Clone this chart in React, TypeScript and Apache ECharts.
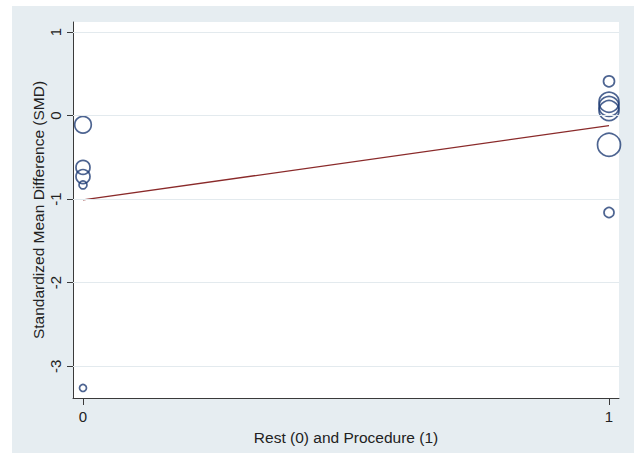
import React, { useEffect, useRef } from "react";
import * as echarts from "echarts";

// Study group: 0 = rest, 1 = procedure
const groupX: number[] = [0, 0, 0, 0, 0, 1, 1, 1, 1, 1, 1];
// Standardized mean difference per study
const smdY: number[] = [-0.11, -0.62, -0.73, -0.83, -3.26, 0.41, 0.16, 0.11, 0.06, -0.35, -1.16];
// Relative study weight (bubble diameter)
const studyWeight: number[] = [16.6, 14, 14, 8, 7, 11, 20, 20, 20, 23, 10];
// Meta-regression fitted line endpoints
const fitX: number[] = [0, 1];
const fitY: number[] = [-1.01, -0.12];
const yTicks: number[] = [-3, -2, -1, 0, 1];
const xTicks: number[] = [0, 1];

export default function App() {
  const ref = useRef<HTMLDivElement>(null);
  useEffect(() => {
    if (!ref.current) return;
    const chart = echarts.init(ref.current, null, { renderer: "svg" });
    const font = "Liberation Sans, Arial, sans-serif";
    const axisColor = "#3a3a3a";
    chart.setOption({
      animation: false,
      backgroundColor: "#ffffff",
      graphic: [
        {
          type: "rect",
          z: -10,
          silent: true,
          shape: { x: 12, y: 6, width: 622, height: 447 },
          style: { fill: "#e6edf1" },
        },
        {
          type: "rect",
          z: -9,
          silent: true,
          shape: { x: 73, y: 22, width: 546, height: 376 },
          style: { fill: "#ffffff" },
        },
      ],
      grid: { left: 73, top: 22, right: 15, bottom: 57, containLabel: false },
      xAxis: {
        type: "value",
        min: -0.019,
        max: 1.019,
        name: "Rest (0) and Procedure (1)",
        nameLocation: "middle",
        nameGap: 31,
        nameTextStyle: { fontFamily: font, fontSize: 15.5, color: "#222" },
        axisLine: { show: true, onZero: false, lineStyle: { color: axisColor, width: 1 } },
        axisTick: { show: true, length: 7, customValues: xTicks, lineStyle: { color: axisColor } },
        axisLabel: { customValues: xTicks, margin: 11, fontFamily: font, fontSize: 15, color: "#222" },
        splitLine: { show: false },
      },
      yAxis: {
        type: "value",
        min: -3.38,
        max: 1.12,
        name: "Standardized Mean Difference (SMD)",
        nameLocation: "middle",
        nameGap: 27,
        nameMoveOverlap: false,
        nameRotate: 90,
        nameTextStyle: { fontFamily: font, fontSize: 15.5, color: "#222" },
        axisLine: { show: true, onZero: false, lineStyle: { color: axisColor, width: 1 } },
        axisTick: { show: true, length: 6, customValues: yTicks, lineStyle: { color: axisColor } },
        axisLabel: { customValues: yTicks, rotate: 90, margin: 10, fontFamily: font, fontSize: 15, color: "#222" },
        splitLine: { show: false },
      },
      series: [
        {
          type: "line",
          silent: true,
          symbol: "none",
          data: [],
          markLine: {
            silent: true,
            symbol: "none",
            label: { show: false },
            lineStyle: { color: "#e3eaee", width: 1, type: "solid" },
            data: yTicks.map((v) => ({ yAxis: v })),
          },
        },
        {
          type: "scatter",
          data: groupX.map((x, i) => [x, smdY[i], studyWeight[i]]),
          symbol: "circle",
          symbolSize: (v: number[]) => v[2],
          itemStyle: { color: "rgba(0,0,0,0)", borderColor: "#213d75", borderWidth: 1.7 },
          z: 3,
        },
        {
          type: "line",
          data: fitX.map((x, i) => [x, fitY[i]]),
          symbol: "none",
          lineStyle: { color: "#8a2a2a", width: 1.3 },
          z: 4,
        },
      ],
    });
    return () => chart.dispose();
  }, []);
  return (
    <div
      ref={ref}
      style={{ position: "fixed", left: 0, top: 0, width: 634, height: 455 }}
    />
  );
}
